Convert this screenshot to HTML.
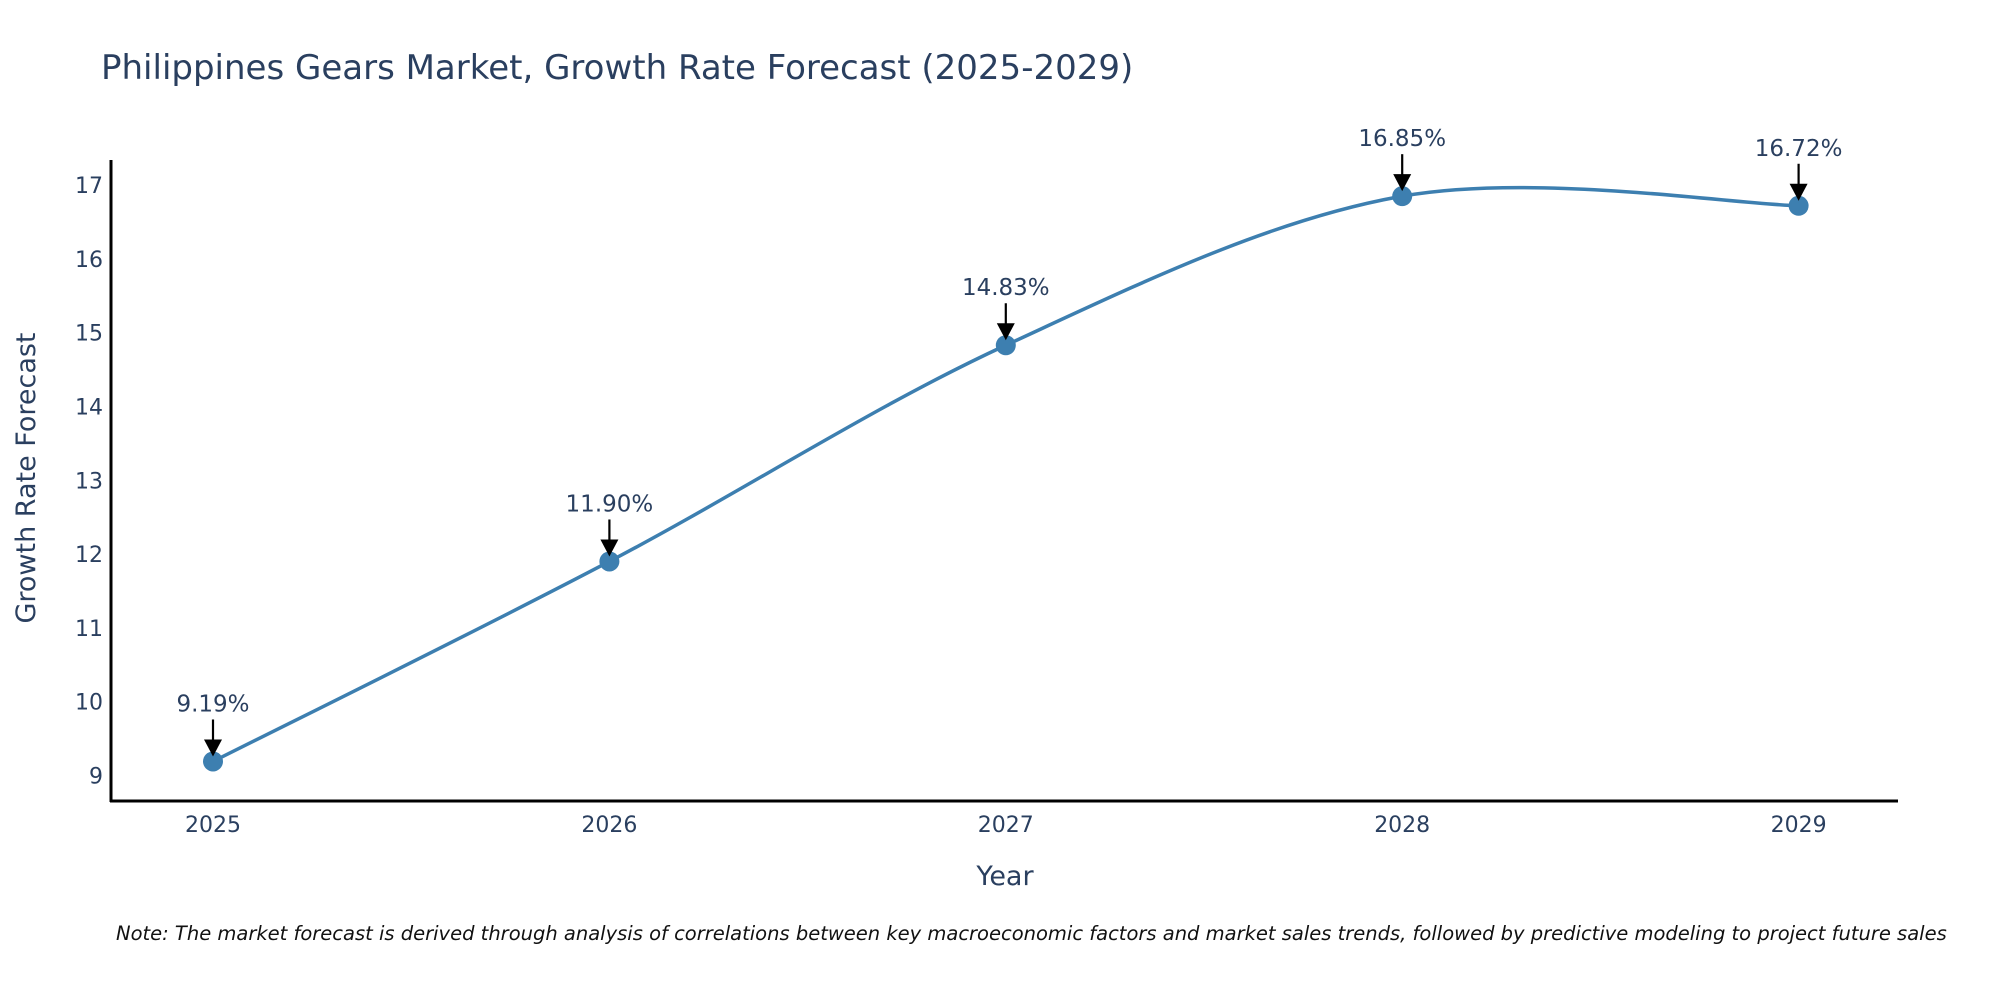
<!DOCTYPE html>
<html><head><meta charset="utf-8"><style>
body{margin:0;background:#fff;}
svg{display:block;font-family:"DejaVu Sans","Liberation Sans",sans-serif;}
</style></head><body>
<svg width="2000" height="1000" viewBox="0 0 2000 1000">
<text x="101" y="79" font-size="34" fill="#2a3f5f">Philippines Gears Market, Growth Rate Forecast (2025-2029)</text>
<g id="grid"></g>
<g id="series"></g>
<g id="annots"></g>
<line x1="111" y1="160" x2="111" y2="802" stroke="#000" stroke-width="3"/>
<line x1="110" y1="801" x2="1898" y2="801" stroke="#000" stroke-width="3"/>
<g id="yticks"></g>
<g id="xticks"></g>
<text x="1005" y="885" font-size="27" fill="#2a3f5f" text-anchor="middle">Year</text>
<text transform="translate(35,478) rotate(-90)" font-size="27" fill="#2a3f5f" text-anchor="middle">Growth Rate Forecast</text>
<text x="116" y="940" font-size="19.5" font-style="italic" fill="#111">Note: The market forecast is derived through analysis of correlations between key macroeconomic factors and market sales trends, followed by predictive modeling to project future sales</text>
</svg>
<script>
const years = [2025, 2026, 2027, 2028, 2029];
const values = [9.19, 11.90, 14.83, 16.85, 16.72];
const labels = ["9.19%", "11.90%", "14.83%", "16.85%", "16.72%"];
const yTicks = [9, 10, 11, 12, 13, 14, 15, 16, 17];

const NS = "http://www.w3.org/2000/svg";
function xS(yr){ return 213 + (yr - 2025) * 396.4; }
function yS(v){ return 775.5 - (v - 9) * 73.8; }
function mk(tag, attrs, parent){
  const e = document.createElementNS(NS, tag);
  for (const k in attrs) e.setAttribute(k, attrs[k]);
  parent.appendChild(e); return e;
}
const yt = document.getElementById('yticks');
yTicks.forEach(t => {
  const e = mk('text', {x:103, y:yS(t)+8, 'font-size':22, fill:'#2a3f5f', 'text-anchor':'end'}, yt);
  
  
  e.textContent = t;
});
const xt = document.getElementById('xticks');
years.forEach(y => {
  const e = mk('text', {x:xS(y), y:832, 'font-size':22, fill:'#2a3f5f', 'text-anchor':'middle'}, xt);
  
  
  e.textContent = y;
});
const pts = years.map((y,i)=>[xS(y), yS(values[i])]);
let d = `M${pts[0][0]},${pts[0][1]}`;
for (let i=0;i<pts.length-1;i++){
  const p0 = pts[Math.max(0,i-1)], p1 = pts[i], p2 = pts[i+1], p3 = pts[Math.min(pts.length-1,i+2)];
  const c1 = [p1[0]+(p2[0]-p0[0])/6, p1[1]+(p2[1]-p0[1])/6];
  const c2 = [p2[0]-(p3[0]-p1[0])/6, p2[1]-(p3[1]-p1[1])/6];
  d += ` C${c1[0]},${c1[1]} ${c2[0]},${c2[1]} ${p2[0]},${p2[1]}`;
}
const sg = document.getElementById('series');
const line = mk('path', {d:d, fill:'none', stroke:'#3d7fb0', 'stroke-width':3.5}, sg);


const ag = document.getElementById('annots');
pts.forEach((p,i)=>{
  const c = mk('circle', {cx:p[0], cy:p[1], r:10, fill:'#3d7fb0'}, sg);
  
  
  const a = mk('line', {x1:p[0], y1:p[1]-42, x2:p[0], y2:p[1]-18, stroke:'#000', 'stroke-width':2.2}, ag);
  
  
  const h = mk('polygon', {points:`${p[0]-9},${p[1]-22} ${p[0]+9},${p[1]-22} ${p[0]},${p[1]-5}`, fill:'#000'}, ag);
  
  
  const t = mk('text', {x:p[0], y:p[1]-50, 'font-size':23, fill:'#2a3f5f', 'text-anchor':'middle'}, ag);
  
  
  t.textContent = labels[i];
});
</script>
</body></html>
